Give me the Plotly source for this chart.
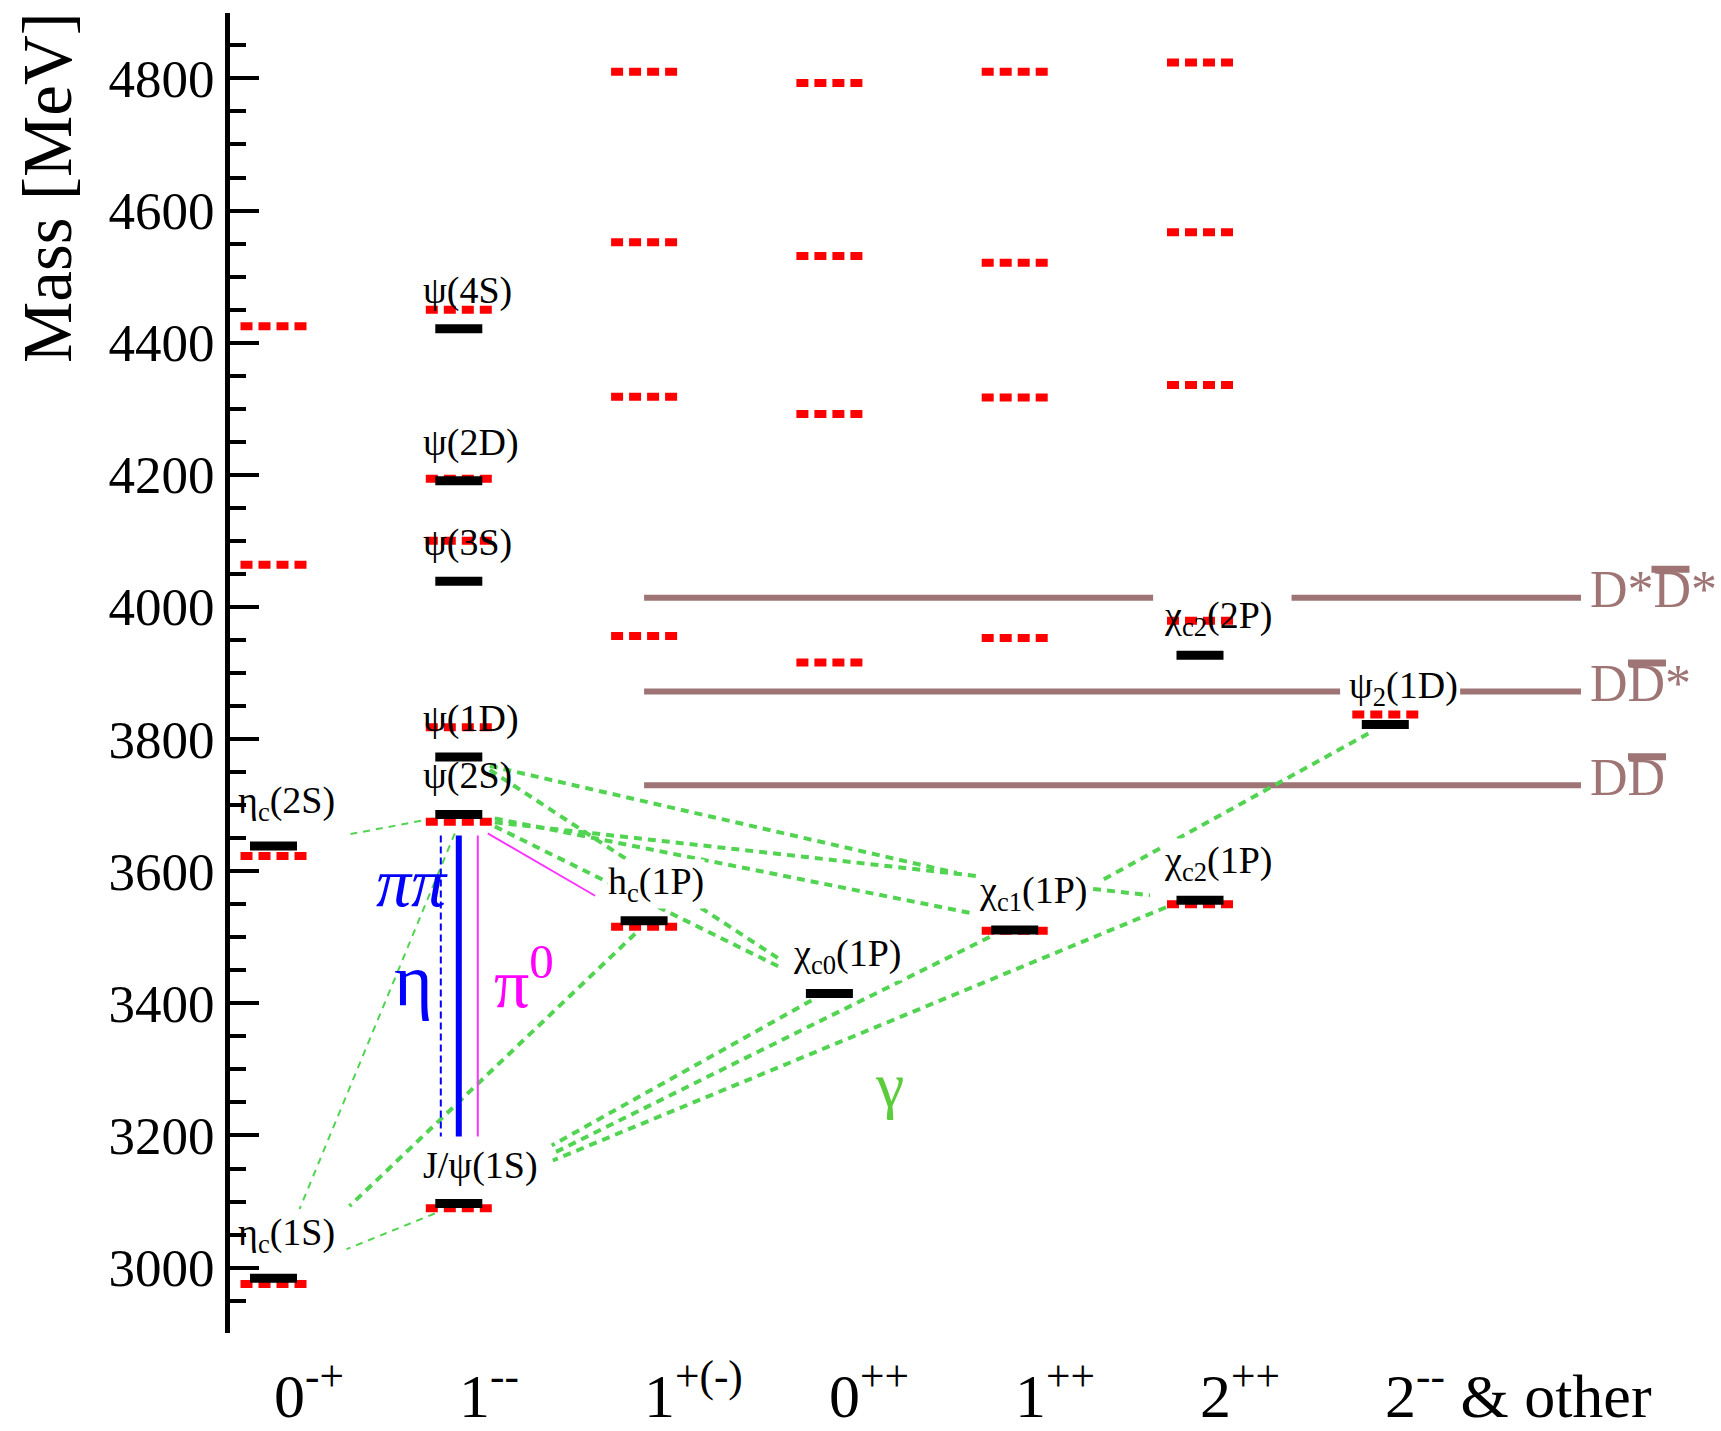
import plotly.graph_objects as go

FONT = "Liberation Serif, Times New Roman, serif"

# ---------------------------------------------------------------- data
# J^PC column headings
JPC_TEXT = ["0<sup>-+</sup>", "1<sup>--</sup>", "1<sup>+(-)</sup>", "0<sup>++</sup>",
            "1<sup>++</sup>", "2<sup>++</sup>", "2<sup>--</sup> & other"]

# observed charmonium states (MeV)
STATE_KEYS = ["etac1S", "etac2S", "jpsi", "psi2S", "psi3770", "psi4040", "psi4160",
              "psi4415", "hc1P", "chic0", "chic1", "chic2", "chic2_2P", "psi2_1D"]
STATE_COLS = [0, 0, 1, 1, 1, 1, 1, 1, 2, 3, 4, 5, 5, 6]
STATE_MASS = [2984, 3638, 3097, 3686, 3773, 4039, 4191, 4421, 3525, 3415, 3511, 3556, 3927, 3822]
STATE_TEXT = ["η<sub>c</sub>(1S)", "η<sub>c</sub>(2S)", "J/ψ(1S)", "ψ(2S)", "ψ(1D)", "ψ(3S)",
              "ψ(2D)", "ψ(4S)", "h<sub>c</sub>(1P)", "χ<sub>c0</sub>(1P)", "χ<sub>c1</sub>(1P)",
              "χ<sub>c2</sub>(1P)", "χ<sub>c2</sub>(2P)", "ψ<sub>2</sub>(1D)"]

# potential-model predictions (MeV)
PRED_COLS = [0] * 4 + [1] * 6 + [2] * 5 + [3] * 5 + [4] * 5 + [5] * 5 + [6]
PRED_MASS = [2975, 3623, 4064, 4425,
             3090, 3675, 3818, 4100, 4194, 4450,
             3516, 3956, 4318, 4552, 4810,
             3445, 3916, 4292, 4531, 4793,
             3510, 3953, 4317, 4521, 4810,
             3550, 3979, 4336, 4567, 4824,
             3837]

# open-charm thresholds (MeV); the second D carries a bar
THRESH_TEXT = ["DD", "DD*", "D*D*"]
THRESH_MASS = [3730, 3872, 4014]

# radiative transitions
M1_FROM = ["psi2S", "psi2S", "jpsi"]
M1_TO = ["etac2S", "etac1S", "etac1S"]
E1_FROM = ["hc1P", "chic0", "chic1", "chic2", "psi2_1D", "psi3770", "psi2S", "psi2S", "psi2S", "psi3770"]
E1_TO = ["etac1S", "jpsi", "jpsi", "jpsi", "chic1", "chic1", "chic1", "chic2", "chic0", "chic0"]

# ------------------------------------------------------------ geometry
W, H = 1721, 1431
MT, MB = 13, 98
COL_X0, COL_DX = 273.5, 185.3          # pixel centre of column 0, column pitch
Y_RANGE = [2901, 4899]
PX_PER_MEV = (H - MT - MB) / (Y_RANGE[1] - Y_RANGE[0])


def cx(px):
    return (px - COL_X0) / COL_DX


def my(py):
    return Y_RANGE[1] - (py - MT) / PX_PER_MEV


def paper_y(py):
    return (H - MB - py) / (H - MT - MB)


POS = {k: (c, m) for k, c, m in zip(STATE_KEYS, STATE_COLS, STATE_MASS)}


def at(key, dx, dy):
    """point offset (pixels, y down) from a state's level centre"""
    c, m = POS[key]
    return c + dx / COL_DX, m - dy / PX_PER_MEV


# end-point offsets of the drawn transition lines (pixels)
M1_OFF = [((-25, 4), (77, -12)), ((-4, 19), (26, -69)), ((-24, 10), (73, -29))]
E1_OFF = [((-9, 13), (76, -72)), ((-18, 7), (93, -58)), ((-25, 7), (94, -50)),
          ((-34, 7), (94, -43)), ((-17, 9), (88, -50)), ((31, 9), (-58, -57)),
          ((36, 4), (-44, -17)), ((36, 8), (-50, -5)), ((36, 12), (-49, -26)),
          ((31, 13), (-51, -35))]

fig = go.Figure()


def polyline(pairs):
    xs, ys = [], []
    for (x0, y0), (x1, y1) in pairs:
        xs += [x0, x1, None]
        ys += [y0, y1, None]
    return xs, ys


# thresholds
BROWN = "#9e7474"
THRESH_SPANS = [[(2.0, 7.056)], [(2.0, 5.756), (6.404, 7.056)], [(2.0, 4.747), (5.494, 7.056)]]
tx, ty = polyline([((a, m), (b, m)) for m, spans in zip(THRESH_MASS, THRESH_SPANS) for a, b in spans])
fig.add_trace(go.Scatter(x=tx, y=ty, mode="lines", line=dict(color=BROWN, width=6), hoverinfo="skip"))

# radiative transitions
GREEN = "#52d452"
xs, ys = polyline([(at(f, *o0), at(t, *o1)) for f, t, (o0, o1) in zip(M1_FROM, M1_TO, M1_OFF)])
fig.add_trace(go.Scatter(x=xs, y=ys, mode="lines", line=dict(color=GREEN, width=2, dash="7px,6px"), hoverinfo="skip"))
xs, ys = polyline([(at(f, *o0), at(t, *o1)) for f, t, (o0, o1) in zip(E1_FROM, E1_TO, E1_OFF)])
fig.add_trace(go.Scatter(x=xs, y=ys, mode="lines", line=dict(color=GREEN, width=4, dash="8px,6px"), hoverinfo="skip"))

# hadronic transitions psi(2S) -> J/psi and psi(2S) -> h_c
had = [
    (at("psi2S", -18, 21), at("jpsi", -18, -67), dict(color="#0000ff", width=2, dash="7px,4px")),
    (at("psi2S", 0, 21), at("jpsi", 0, -67), dict(color="#0000ff", width=6)),
    (at("psi2S", 19, 21), at("jpsi", 19, -67), dict(color="#ff33ff", width=2)),
    (at("psi2S", 29, 19), at("hc1P", -49, -25), dict(color="#ff33ff", width=2)),
]
for p0, p1, ln in had:
    fig.add_trace(go.Scatter(x=[p0[0], p1[0]], y=[p0[1], p1[1]], mode="lines", line=ln, hoverinfo="skip"))

# predicted levels (red dashed) and observed levels (black)
RED_HW, BLK_HW = 33 / COL_DX, 23.5 / COL_DX
xs, ys = polyline([((c - RED_HW, m), (c + RED_HW, m)) for c, m in zip(PRED_COLS, PRED_MASS)])
fig.add_trace(go.Scatter(x=xs, y=ys, mode="lines", line=dict(color="#ff0000", width=8, dash="12px,6px"), hoverinfo="skip"))
xs, ys = polyline([((c - BLK_HW, m), (c + BLK_HW, m)) for c, m in zip(STATE_COLS, STATE_MASS)])
fig.add_trace(go.Scatter(x=xs, y=ys, mode="lines", line=dict(color="#000000", width=9), hoverinfo="skip"))

# state labels
MASKED = {"hc1P", "chic0", "chic1", "chic2"}
for k, c, m, t in zip(STATE_KEYS, STATE_COLS, STATE_MASS, STATE_TEXT):
    has_sub = "<sub>" in t
    fig.add_annotation(x=c, y=m, xref="x", yref="y", text=t, showarrow=False,
                       xanchor="left", yanchor="bottom", xshift=-37,
                       yshift=(12 if has_sub else 16) + (6 if k.startswith("etac") else 0),
                       font=dict(family=FONT, size=38, color="black"),
                       bgcolor="white" if k in MASKED else None, borderpad=0)

# threshold labels with overline on the anti-D
for t, m in zip(THRESH_TEXT, THRESH_MASS):
    fig.add_annotation(x=7.056, y=m, xref="x", yref="y", text=t, showarrow=False,
                       xanchor="left", yanchor="middle", xshift=7, yshift=8,
                       font=dict(family=FONT, size=52, color=BROWN))
    left = 7 + (63.5 if t.startswith("D*") else 40)
    fig.add_shape(type="rect", xref="x", yref="y", xsizemode="pixel", ysizemode="pixel",
                  xanchor=7.056, yanchor=m, x0=left, x1=left + 38, y0=25, y1=32,
                  fillcolor=BROWN, line=dict(width=0))

# transition labels
fig.add_annotation(x=cx(412), y=my(882), text="<i>ππ</i>", showarrow=False,
                   font=dict(family=FONT, size=70, color="#0000ff"))
fig.add_annotation(x=cx(413), y=my(980), text="η", showarrow=False,
                   font=dict(family=FONT, size=74, color="#0000ff"))
fig.add_annotation(x=cx(492), y=my(978), text="π<sup>0</sup>", showarrow=False, xanchor="left",
                   font=dict(family=FONT, size=70, color="#ff00ff"))
fig.add_annotation(x=cx(889), y=my(1084), text="γ", showarrow=False,
                   font=dict(family=FONT, size=64, color="#5ccc3c"))

# column headings
for i, t in enumerate(JPC_TEXT):
    fig.add_annotation(x=i, y=paper_y(1430), xref="x", yref="paper", text=t, showarrow=False,
                       xanchor="left", yanchor="bottom", borderpad=0, borderwidth=0,
                       font=dict(family=FONT, size=62, color="black"))

# axis title
fig.add_annotation(x=48 / W, y=paper_y(188), xref="paper", yref="paper", text="Mass [MeV]",
                   textangle=-90, showarrow=False, xanchor="center", yanchor="middle",
                   font=dict(family=FONT, size=69, color="black"))

MAJOR = list(range(3000, 4801, 200))
MINOR = [v for v in range(2950, 4851, 50) if v not in MAJOR]
fig.update_layout(
    width=W, height=H, margin=dict(l=0, r=0, t=MT, b=MB, autoexpand=False),
    paper_bgcolor="white", plot_bgcolor="white", showlegend=False,
    xaxis=dict(range=[cx(0), cx(W)], visible=False),
    yaxis=dict(range=Y_RANGE, anchor="free", position=227 / W, showline=True, linecolor="black",
               linewidth=5, showgrid=False, zeroline=False, ticks="inside", ticklen=29,
               tickwidth=4, tickcolor="black", tickvals=MAJOR, ticklabelstandoff=0,
               tickfont=dict(family=FONT, size=53, color="black"),
               minor=dict(tickvals=MINOR, ticks="inside", ticklen=16, tickwidth=4, tickcolor="black")),
)
fig.write_html("out.html")
